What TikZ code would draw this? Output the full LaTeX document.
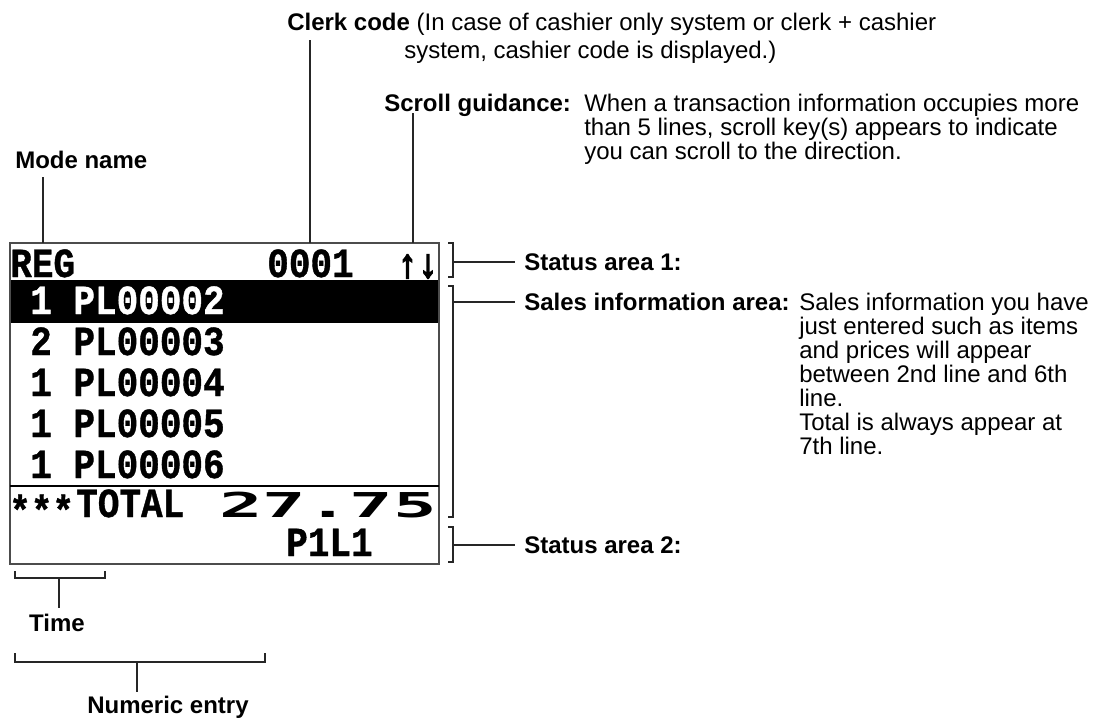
\documentclass[tikz,border=0pt]{standalone}
\usepackage{fontspec}
\setmainfont{Liberation Sans}
\newfontfamily\lcdfont[FakeBold=1]{Liberation Mono}
\newfontfamily\arrowfont[FakeBold=5]{Liberation Mono}
\newfontfamily\bigfont{DejaVu Sans Mono}
\newcommand\lcdtxt[1]{\scalebox{1}[1.15]{\lcdfont\bfseries\fontsize{27}{27}\selectfont #1}}
\newcommand\bigtxt[1]{\scalebox{2.11}[1]{\bigfont\bfseries\fontsize{25.7}{26}\selectfont #1}}
\newcommand\arrtxt[1]{\scalebox{0.95}[1.1]{\arrowfont\fontsize{27}{27}\selectfont #1}}
\begin{document}
\begin{tikzpicture}[x=0.75pt,y=-0.75pt,
  lbl/.style={inner sep=0pt, anchor=base west, font=\fontsize{18}{18}\selectfont},
  blbl/.style={lbl, font=\fontsize{18}{18}\selectfont\bfseries},
  lcd/.style={inner sep=0pt, anchor=base west},
  lead/.style={draw=black!85, line width=0.9pt},
  frame/.style={draw=black!70, line width=1.2pt}]
\useasboundingbox (0,0) rectangle (1106,718);
\fill[white] (0,0) rectangle (1106,718);

% display
\coordinate (dtl) at (10,243);
\coordinate (dbr) at (439,564);
\fill[black] (10,280) rectangle (439,323);
\draw[frame] (dtl) rectangle (dbr);
\draw[black, line width=2.2pt] (10,486) -- (439,486);

\node[lcd] (reg) at (10,277) {\lcdtxt{REG}};
\node[lcd] (clerkno) at (267,277) {\lcdtxt{0001}};
\node[lcd] (arrows) at (397,277) {\arrtxt{↑↓}};
\node[lcd, text=white] (row1) at (30,314) {\lcdtxt{1 PL00002}};
\node[lcd] (row2) at (30,355) {\lcdtxt{2 PL00003}};
\node[lcd] (row3) at (30,396) {\lcdtxt{1 PL00004}};
\node[lcd] (row4) at (30,437) {\lcdtxt{1 PL00005}};
\node[lcd] (row5) at (30,478) {\lcdtxt{1 PL00006}};
\node[lcd] (stars) at (9,517) {\lcdtxt{\raisebox{-5pt}{***}}};
\node[lcd] (total) at (76,517) {\lcdtxt{TOTAL}};
\node[lcd] (amount) at (219,517) {\bigtxt{27.75}};
\node[lcd] (page) at (286,556) {\lcdtxt{P1L1}};

% top labels
\node[blbl] (mode) at (15,168) {Mode name};
\coordinate (modetop) at (43,177);
\coordinate (modebot) at (43,243);
\draw[lead] (modetop) -- (modebot);

\node[lbl] (clerk1) at (287,30) {\textbf{Clerk code} (In case of cashier only system or clerk + cashier};
\node[lbl] (clerk2) at (404,58) {system, cashier code is displayed.)};
\coordinate (clerktop) at (310,40);
\coordinate (clerkbot) at (310,243);
\draw[lead] (clerktop) -- (clerkbot);

\node[blbl] (scroll) at (384,111) {Scroll guidance:};
\node[lbl] (scroll1) at (584,111) {When a transaction information occupies more};
\node[lbl] (scroll2) at (584,135) {than 5 lines, scroll key(s) appears to indicate};
\node[lbl] (scroll3) at (584,159) {you can scroll to the direction.};
\coordinate (scrolltop) at (413,113);
\coordinate (scrollbot) at (413,243);
\draw[lead] (scrolltop) -- (scrollbot);

% right brackets
\node[blbl] (sa1) at (524,270) {Status area 1:};
\draw[lead] (448,243) -- (453,243) -- (453,277) -- (448,277);
\draw[lead] (453,262) -- ([xshift=-7pt]sa1.base west |- 0,262);

\node[blbl] (sales) at (524,310) {Sales information area:};
\draw[lead] (448,286) -- (453,286) -- (453,517) -- (448,517);
\draw[lead] (453,302) -- ([xshift=-7pt]sales.base west |- 0,302);
\node[lbl] (s1) at (799,310) {Sales information you have};
\node[lbl] (s2) at (799,334) {just entered such as items};
\node[lbl] (s3) at (799,358) {and prices will appear};
\node[lbl] (s4) at (799,382) {between 2nd line and 6th};
\node[lbl] (s5) at (799,406) {line.};
\node[lbl] (s6) at (799,430) {Total is always appear at};
\node[lbl] (s7) at (799,454) {7th line.};

\node[blbl] (sa2) at (524,553) {Status area 2:};
\draw[lead] (448,527) -- (453,527) -- (453,562) -- (448,562);
\draw[lead] (453,545) -- ([xshift=-7pt]sa2.base west |- 0,545);

% bottom brackets
\node[blbl, anchor=base] (time) at (57,631) {Time};
\draw[lead] (15,571) -- (15,578) -- (105,578) -- (105,571);
\draw[lead] (59,578) -- (59,608);
\node[blbl, anchor=base] (num) at (168,713) {Numeric entry};
\draw[lead] (15,653) -- (15,662) -- (265,662) -- (265,653);
\draw[lead] (137,662) -- (137,692);
\end{tikzpicture}
\end{document}
